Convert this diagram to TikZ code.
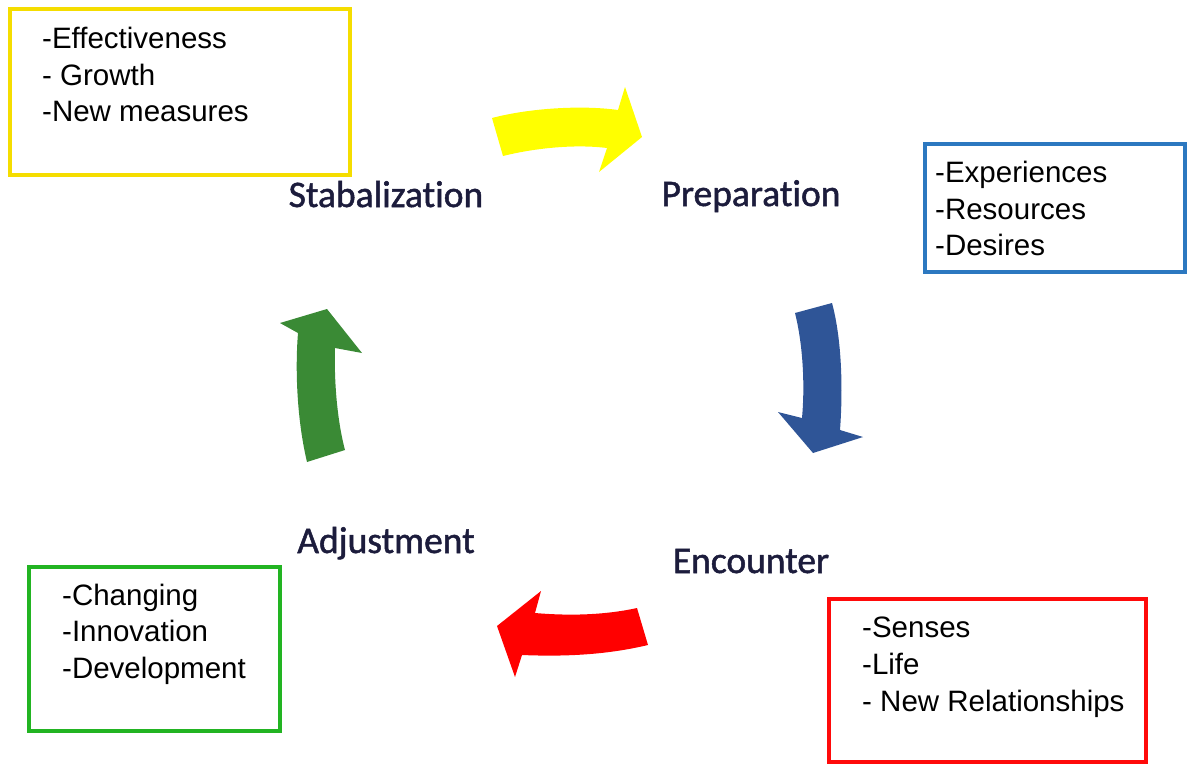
\documentclass[tikz,border=0pt]{standalone}
\usepackage{fontspec}
\setmainfont{Liberation Sans}
\newfontfamily\stagefont[RawFeature=-liga,FakeBold=1.3]{Carlito}
\begin{document}
\begin{tikzpicture}[x=1pt,y=-1pt,
  listbox/.style={line width=3.2pt},
  item/.style={anchor=base west,inner sep=0pt,font=\fontsize{29.5}{36}\selectfont,text=black},
  stage/.style={anchor=base,inner sep=0pt,font=\stagefont\fontsize{37.5}{40}\selectfont,text=navytext}]
\definecolor{navytext}{HTML}{1C1C3C}
\definecolor{boxyellow}{HTML}{F5DD00}
\definecolor{boxblue}{HTML}{2C78C0}
\definecolor{boxgreen}{HTML}{22B422}
\definecolor{boxred}{HTML}{FF0A0A}
\definecolor{arryellow}{HTML}{FFFF00}
\definecolor{arrblue}{HTML}{2F5597}
\definecolor{arrred}{HTML}{FF0000}
\definecolor{arrgreen}{HTML}{3A8A35}
\useasboundingbox (0,0) rectangle (1188,764);

% boxes listing the aspects of each stage
\draw[listbox,boxyellow] (10,9) rectangle (350,175);
\draw[listbox,boxblue] (925,144) rectangle (1185,272);
\draw[listbox,boxgreen] (29,567) rectangle (280,731);
\draw[listbox,boxred] (829,599) rectangle (1146,762);

\node[item] (s1) at (42,48) {-Effectiveness};
\node[item] (s2) at (42,85) {- Growth};
\node[item] (s3) at (42,121) {-New measures};

\node[item] (p1) at (935,182) {-Experiences};
\node[item] (p2) at (935,219) {-Resources};
\node[item] (p3) at (935,255) {-Desires};

\node[item] (a1) at (62,605) {-Changing};
\node[item] (a2) at (62,641) {-Innovation};
\node[item] (a3) at (62,678) {-Development};

\node[item] (e1) at (862,637) {-Senses};
\node[item] (e2) at (862,674) {-Life};
\node[item] (e3) at (862,711) {- New Relationships};

% stage names
\node[stage] (stab) at (386,207) {Stabalization};
\node[stage] (prep) at (751,206) {Preparation};
\node[stage] (enc) at (751,573) {Encounter};
\node[stage] (adj) at (386,553) {Adjustment};

% curved block arrows of the cycle
\fill[arryellow] (492,118) .. controls (530,108) and (582,105) .. (618,110)
  -- (625,87) -- (642,137) -- (599,172) -- (607,148)
  .. controls (575,144) and (535,148) .. (503,156) -- cycle;
\fill[arrblue] (795,313) -- (832,303) .. controls (842,340) and (843,390) .. (840,430)
  -- (863,437) -- (813,453) -- (778,412) -- (802,418)
  .. controls (805,385) and (803,345) .. (795,313) -- cycle;
\fill[arrred] (637,608) -- (648,645) .. controls (610,654) and (570,657) .. (522,655)
  -- (515,677) -- (497,626) -- (541,591) -- (535,613)
  .. controls (570,616) and (605,615) .. (637,608) -- cycle;
\fill[arrgreen] (307,462) -- (345,450) .. controls (337,420) and (334,380) .. (335,348)
  -- (362,353) -- (327,309) -- (280,323) -- (298,333)
  .. controls (295,370) and (297,420) .. (307,462) -- cycle;
\end{tikzpicture}
\end{document}
